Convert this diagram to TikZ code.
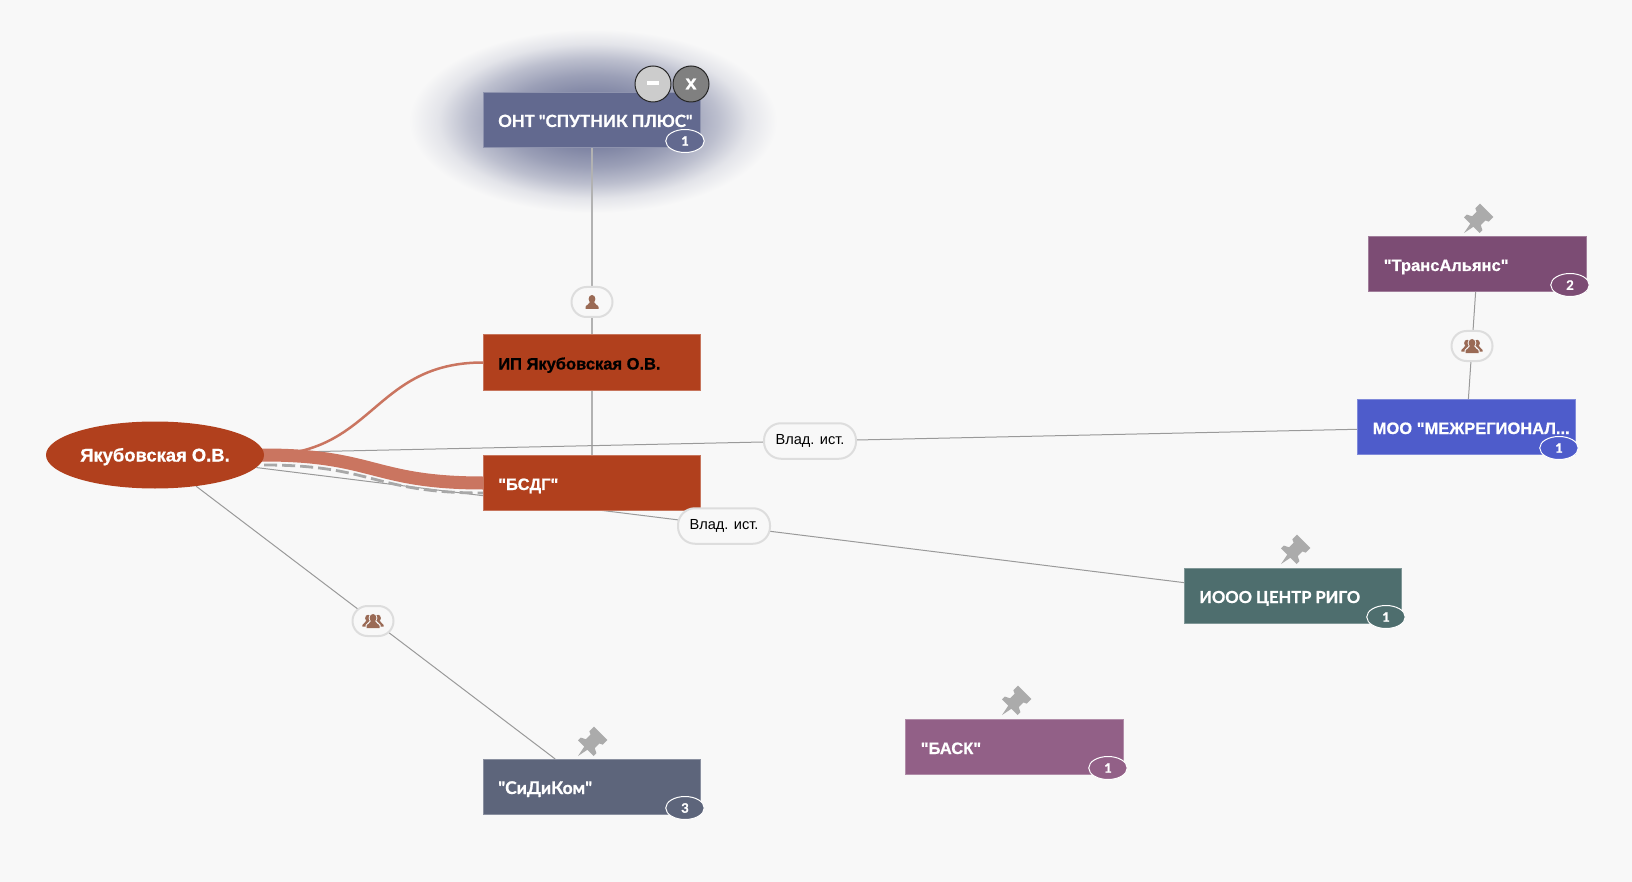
\documentclass[tikz,border=0pt]{standalone}
\usepackage{fontspec}
\setmainfont{Liberation Sans}[Ligatures=TeXOff,BoldFeatures={FakeBold=0.7}]
\newfontfamily\latf{Lato}[Ligatures=TeXOff,BoldFeatures={FakeBold=1.0}]
\usetikzlibrary{shapes.geometric,backgrounds}
\definecolor{bgc}{HTML}{F8F8F8}
\definecolor{ontc}{HTML}{62698F}
\definecolor{orc}{HTML}{B1401D}
\definecolor{trc}{HTML}{7C4C74}
\definecolor{mooc}{HTML}{4E5CCB}
\definecolor{rigoc}{HTML}{4E6E6E}
\definecolor{baskc}{HTML}{926087}
\definecolor{sidc}{HTML}{5D657B}
\definecolor{ribbonc}{HTML}{CA7560}
\definecolor{linec}{HTML}{9A9A9A}
\definecolor{vlinec}{HTML}{B2B2B2}
\definecolor{dashc}{HTML}{A8A8A8}
\definecolor{pillc}{HTML}{DDDDDD}
\definecolor{iconc}{HTML}{9A6A55}
\definecolor{pinc}{HTML}{ABABAB}
\pgfdeclareradialshading{glowshade}{\pgfpointorigin}{%
  color(0bp)=(ontc); color(7.5bp)=(ontc!80!bgc); color(12.5bp)=(ontc!62!bgc);
  color(17bp)=(ontc!40!bgc); color(21bp)=(ontc!14!bgc); color(25bp)=(bgc); color(50bp)=(bgc)}
\newcommand{\boxtext}[1]{\hbox to 217.5pt{\hskip15pt #1\hss}}
\tikzset{
  x=1pt,y=-1pt,
  orgbox/.style={rectangle,minimum width=217.5pt,minimum height=55.5pt,inner sep=0pt,
    fill=#1,draw=#1!72!white,line width=.6pt,text=white,font=\bfseries\fontsize{16.5}{18}\selectfont,
    text height=14pt,text depth=0pt},
  badge/.style={ellipse,minimum width=38.5pt,minimum height=23pt,inner sep=0pt,fill=#1,draw=white,
    line width=1pt,text=white,font=\latf\bfseries\fontsize{13}{14}\selectfont},
  pill/.style={rectangle,rounded corners=15pt,minimum width=41pt,minimum height=30pt,inner sep=0pt,
    fill=bgc,draw=pillc,line width=2pt},
  rolepill/.style={pill,minimum width=92pt,minimum height=35.5pt,rounded corners=17pt,
    font=\fontsize{14.6}{16}\selectfont,text=black},
  edge/.style={draw=linec,line width=1pt},
  vedge/.style={draw=vlinec,line width=1.5pt},
  roundbtn/.style={circle,minimum size=36pt,inner sep=0pt,draw=black!85,line width=1pt,text=white},
  pinshape/.pic={
    \fill[pinc] (0,0) -- (11,-2.2) -- (11,-11) -- (15,-11) -- (17.5,-6.2) -- (24,-6.2) -- (25.5,-9.5)
      -- (32,-9.5) -- (32,9.5) -- (25.5,9.5) -- (24,6.2) -- (17.5,6.2) -- (15,11) -- (11,11) -- (11,2.2) -- cycle;
  },
  person/.pic={
    \fill[iconc] (0,-3) ellipse [x radius=3.4pt,y radius=4pt];
    \fill[iconc] (-6.5,7) -- (-6.5,5) .. controls (-6.5,3) and (-2.5,3) .. (-2,0) -- (2,0)
      .. controls (2.5,3) and (6.5,3) .. (6.5,5) -- (6.5,7) -- cycle;
  },
  people/.pic={
    \begin{scope}[shift={(-5,-0.3)},scale=.85] \pic[transform shape] {person}; \end{scope}
    \begin{scope}[shift={(5,-0.3)},scale=.85] \pic[transform shape] {person}; \end{scope}
    \fill[bgc] (0,-3) ellipse [x radius=4.4pt,y radius=5pt];
    \fill[bgc] (-7.5,7) -- (-7.5,4) -- (-3.5,0) -- (3.5,0) -- (7.5,4) -- (7.5,7) -- cycle;
    \pic[transform shape] {person};
  }
}
\begin{document}
\begin{tikzpicture}
\useasboundingbox (0,0) rectangle (1632,882);
% nodes
\node[ellipse,minimum width=218pt,minimum height=67pt,inner sep=0pt,fill=orc,text=white,
  font=\bfseries\fontsize{18.4}{20}\selectfont,text height=13pt,text depth=0pt] (ell) at (155,455) {Якубовская О.В.};
\node[orgbox=ontc] (ont) at (592,120) {\boxtext{\latf\fontsize{16.8}{18}\selectfont ОНТ "СПУТНИК ПЛЮС"}};
\node[orgbox=orc,text=black] (ip) at (592,362.5) {\boxtext{ИП Якубовская О.В.}};
\node[orgbox=orc] (bsdg) at (592,483) {\boxtext{"БСДГ"}};
\node[orgbox=trc] (tr) at (1477.5,264) {\boxtext{"ТрансАльянс"}};
\node[orgbox=mooc] (moo) at (1466.5,427) {\boxtext{МОО "МЕЖРЕГИОНАЛ...}};
\node[orgbox=rigoc] (rigo) at (1293,596) {\boxtext{\latf ИООО ЦЕНТР РИГО}};
\node[orgbox=baskc] (bask) at (1014.5,747) {\boxtext{"БАСК"}};
\node[orgbox=sidc] (sid) at (592,787) {\boxtext{\latf\fontsize{17.5}{18}\selectfont "СиДиКом"}};
% badges
\node[badge=ontc] (b1) at (685,141) {1};
\node[badge=trc] (b2) at (1570,285) {2};
\node[badge=mooc] (b3) at (1559,448) {1};
\node[badge=rigoc] (b4) at (1386,617) {1};
\node[badge=baskc] (b5) at (1108,768) {1};
\node[badge=sidc] (b6) at (685,808) {3};
% buttons
\node[roundbtn,fill=black!20] (btnm) at (653,84) {\rule[2.5pt]{12pt}{4pt}};
\node[roundbtn,fill=black!50,font=\bfseries\fontsize{20}{20}\selectfont] (btnx) at (691,84) {x};
% pills
\node[pill] (p1) at (592,302) {};
\node[pill] (p2) at (1472,346) {};
\node[pill] (p3) at (373,621) {};
\node[rolepill] (r1) at (810,441) {Влад. ист.};
\node[rolepill] (r2) at (724,526) {Влад. ист.};
% icons
\pic at (p1) {person};
\pic at (p2) {people};
\pic at (p3) {people};
% pins
\begin{scope}[shift={(1464,233)},rotate=45] \pic[transform shape] {pinshape}; \end{scope}
\begin{scope}[shift={(1281,564)},rotate=45] \pic[transform shape] {pinshape}; \end{scope}
\begin{scope}[shift={(1002,715)},rotate=45] \pic[transform shape] {pinshape}; \end{scope}
\begin{scope}[shift={(578,756)},rotate=45] \pic[transform shape] {pinshape}; \end{scope}
% glow and connectors under the nodes
\begin{pgfonlayer}{background}
\fill[bgc] (0,0) rectangle (1632,882);
\shade[shading=glowshade] (593,121) ellipse [x radius=184pt,y radius=92pt];
\draw[vedge] (ont) -- (bsdg);
\draw[edge] (ell) -- (moo);
\draw[edge] (ell) -- (rigo);
\draw[edge] (ell) -- (sid);
\draw[edge] (tr) -- (moo);
\draw[draw=dashc,line width=2.8pt,dash pattern=on 13pt off 5pt] ([yshift=-10pt]ell.east)
  .. controls +(110,0) and +(-110,0) .. ([yshift=-10pt]bsdg.west);
\draw[draw=ribbonc,line width=13pt] (ell.center) -- (ell.east) .. controls +(110,0) and +(-110,0) .. (bsdg.west);
\draw[draw=ribbonc,line width=2.5pt] (ell.center) -- (ell.east) .. controls +(110,0) and +(-110,0) .. (ip.west);
\end{pgfonlayer}
\end{tikzpicture}
\end{document}
